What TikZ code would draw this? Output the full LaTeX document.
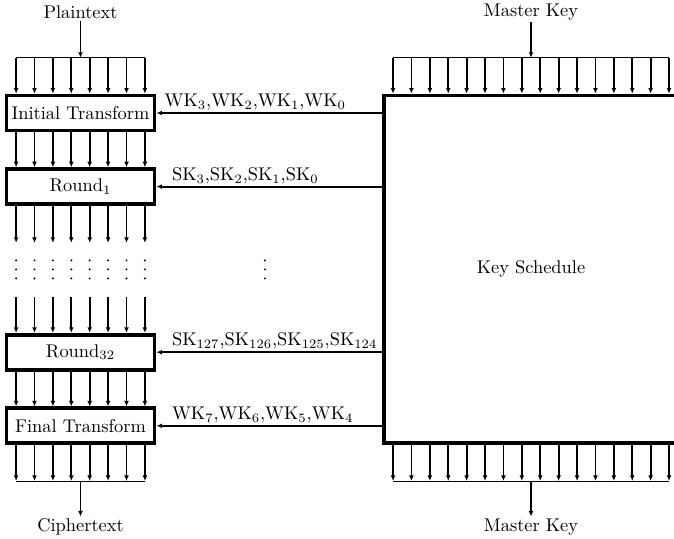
\documentclass[tikz,border=0pt]{standalone}
\usetikzlibrary{arrows.meta}
\begin{document}
\begin{tikzpicture}[x=10pt, y=-10pt, >={Latex[length=3pt,width=2.6pt]},
  block/.style={draw, line width=2pt, minimum width=80.5pt, minimum height=19pt, inner sep=0pt},
  bit/.style={->, line width=1pt},
  bus/.style={line width=0.5pt},
  ioname/.style={inner sep=1pt},
  keyname/.style={anchor=south west, inner sep=1pt, pos=1, xshift=7pt}]

\useasboundingbox (0,0) rectangle (36.63,29.24);

% cipher side
\node[ioname] at (4.375, 0.65) (pt) {Plaintext};
\node[block] at (4.375, 6.14) (it) {Initial Transform};
\node[block] at (4.375, 10.14) (r1) {Round$_1$};
\node[block] at (4.375, 19.14) (r32) {Round$_{32}$};
\node[block] at (4.375, 23.14) (ft) {Final Transform};
\node[ioname] at (4.375, 28.64) (ct) {Ciphertext};

% key side
\node[ioname] at (28.86, 0.65) (mkin) {Master Key};
\node[block, minimum width=160pt, minimum height=189pt] at (28.86, 14.64) (ks) {Key Schedule};
\node[ioname] at (28.86, 28.64) (mkout) {Master Key};

\coordinate (ptbus) at (4.375, 3.14);
\coordinate (ctbus) at (4.375, 26.14);
\coordinate (mkinbus) at (28.86, 3.14);
\coordinate (mkoutbus) at (28.86, 26.14);

\draw [bit] (pt) -- (ptbus);
\draw [bus] (0.875, 3.14) -- (7.875, 3.14);
\draw [bus] (0.875, 26.14) -- (7.875, 26.14);
\draw [bit] (ctbus) -- (ct);

\foreach \x in {0.875, 1.875, ..., 7.875} {
  \draw [bit] (\x, 3.14) -- (\x,0 |- it.north);
  \draw [bit] (\x,0 |- it.south) -- (\x,0 |- r1.north);
  \draw [bit] (\x,0 |- r1.south) -- (\x, 13.2);
  \foreach \y in {14.15, 14.64, 15.13}
    \fill (\x, \y) circle (0.6pt);
  \draw [bit] (\x, 16.16) -- (\x,0 |- r32.north);
  \draw [bit] (\x,0 |- r32.south) -- (\x,0 |- ft.north);
  \draw [bit] (\x,0 |- ft.south) -- (\x, 26.14);
}

\foreach \y in {14.15, 14.64, 15.13}
  \fill (14.4, \y) circle (0.6pt);

\draw [bit] (mkin) -- (mkinbus);
\draw [bus] (21.36, 3.14) -- (36.36, 3.14);
\draw [bus] (21.36, 26.14) -- (36.36, 26.14);
\draw [bit] (mkoutbus) -- (mkout);

\foreach \x in {21.36, 22.36, ..., 36.36} {
  \draw [bit] (\x, 3.14) -- (\x,0 |- ks.north);
  \draw [bit] (\x,0 |- ks.south) -- (\x, 26.14);
}

\draw [bit] (ks.west |- it.east) -- (it.east)
  node [keyname, xshift=-4pt] {WK$_3$,WK$_2$,WK$_1$,WK$_0$};
\draw [bit] (ks.west |- r1.east) -- (r1.east)
  node [keyname] {SK$_3$,SK$_2$,SK$_1$,SK$_0$};
\draw [bit] (ks.west |- r32.east) -- (r32.east)
  node [keyname] {SK$_{127}$,SK$_{126}$,SK$_{125}$,SK$_{124}$};
\draw [bit] (ks.west |- ft.east) -- (ft.east)
  node [keyname] {WK$_7$,WK$_6$,WK$_5$,WK$_4$};
\end{tikzpicture}
\end{document}
